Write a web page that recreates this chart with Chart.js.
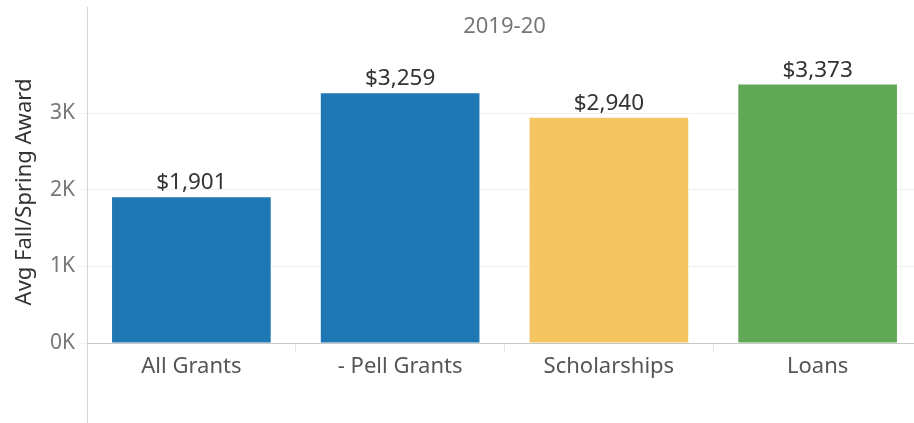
<!DOCTYPE html>
<html>
<head>
<meta charset="utf-8">
<script src="https://cdn.jsdelivr.net/npm/chart.js@4"></script>
<style>
  html, body { margin: 0; padding: 0; background: #fff; overflow: hidden; }
  #wrap { width: 914px; height: 423px; overflow: hidden; }
  #wrap div { width: 924px; height: 423px; }
</style>
</head>
<body>
<div id="wrap"><div><canvas id="awardChart"></canvas></div></div>
<script>
// categorias e valores
const categorias = ["All Grants", "- Pell Grants", "Scholarships", "Loans"];
const valores = [1901, 3259, 2940, 3373];
const cores = ["#1f77b4", "#1f77b4", "#f5c562", "#60a855"];
const ticksY = [0, 1000, 2000, 3000];
const tituloAno = "2019-20";
const tituloY = "Avg Fall/Spring Award";

const FONTE = "'Noto Sans', sans-serif";

// ==============================
// Plugin: cabeçalho, linha esquerda e rótulos das barras
// ==============================
const extras = {
  id: "extras",
  afterDraw(chart) {
    const ctx = chart.ctx;
    const area = chart.chartArea;
    ctx.save();

    // linha vertical à esquerda (header + eixo)
    ctx.strokeStyle = "#d4d4d4";
    ctx.lineWidth = 1;
    ctx.beginPath();
    ctx.moveTo(area.left + 0.5, 7);
    ctx.lineTo(area.left + 0.5, chart.height);
    ctx.stroke();

    // título do ano
    ctx.fillStyle = "#777";
    ctx.font = "22px " + FONTE;
    ctx.textAlign = "center";
    ctx.textBaseline = "middle";
    ctx.fillText(tituloAno, (area.left + area.right) / 2, 27);

    // rótulos de valor
    const meta = chart.getDatasetMeta(0);
    ctx.fillStyle = "#333";
    ctx.font = "22.5px " + FONTE;
    ctx.textBaseline = "bottom";
    meta.data.forEach((bar, i) => {
      ctx.fillText("$" + valores[i].toLocaleString("en-US"), bar.x, bar.y - 3);
    });
    ctx.restore();
  },
};

new Chart(document.getElementById("awardChart"), {
  type: "bar",
  data: {
    labels: categorias,
    datasets: [
      {
        data: valores,
        backgroundColor: cores,
        barPercentage: 0.76,
        categoryPercentage: 1.0,
      },
    ],
  },
  options: {
    responsive: true,
    maintainAspectRatio: false,
    animation: false,
    layout: { padding: { top: 41, right: 2, left: 0, bottom: 0 } },
    plugins: {
      legend: { display: false },
      tooltip: { enabled: false },
    },
    scales: {
      x: {
        grid: {
          offset: true,
          drawOnChartArea: false,
          drawTicks: true,
          tickLength: 9,
          color: "#e6e6e6",
        },
        border: { color: "#c8c8c8" },
        ticks: {
          color: "#555",
          font: { family: FONTE, size: 22 },
          padding: 2,
        },
        afterFit: (scale) => {
          scale.height = 80;
        },
      },
      y: {
        min: 0,
        max: 3940,
        grid: { color: "#f0f0f0", tickLength: 9 },
        border: { display: false },
        ticks: {
          color: "#777",
          padding: 3,
          font: { family: FONTE, size: 21 },
          callback: (v) => v / 1000 + "K",
        },
        afterBuildTicks: (scale) => {
          scale.ticks = ticksY.map((v) => ({ value: v }));
        },
        title: {
          display: true,
          text: tituloY,
          color: "#333",
          font: { family: FONTE, size: 22 },
          padding: { top: 12, bottom: 0 },
        },
        afterFit: (scale) => {
          scale.width = 87;
        },
      },
    },
  },
  plugins: [extras],
});
</script>
</body>
</html>
